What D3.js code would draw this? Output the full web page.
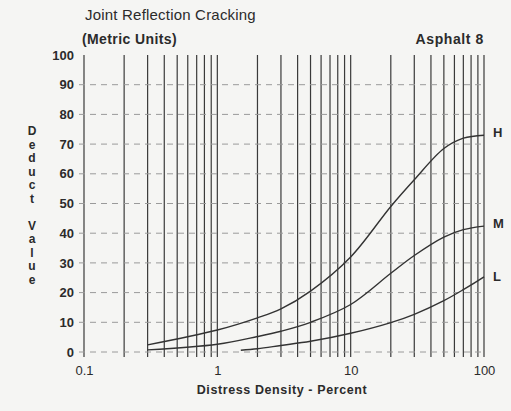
<!DOCTYPE html>
<html>
<head>
<meta charset="utf-8">
<script src="https://cdn.jsdelivr.net/npm/d3@7"></script>
<style>
  html, body { margin: 0; padding: 0; background: #f5f5f3; }
  svg { display: block; }
  text { font-family: "Liberation Sans", Arial, sans-serif; fill: #2b2b2b; }
</style>
</head>
<body>
<svg></svg>
<script>
// values
var densityH = [0.3, 1, 2, 3, 5, 10, 20, 30, 50, 70, 100];
var deductH  = [2.4, 7.4, 11.5, 14.5, 20.5, 32, 49, 58, 68.5, 72, 73];

var densityM = [0.3, 1, 2, 3, 5, 10, 20, 30, 50, 70, 100];
var deductM  = [0.7, 2.6, 5.2, 7, 10, 16, 26.5, 32.5, 38.7, 41.2, 42.4];

var densityL = [1.5, 2, 3, 5, 10, 20, 30, 50, 70, 100];
var deductL  = [0.6, 1.1, 2.2, 3.6, 6.3, 9.9, 12.7, 17.3, 21, 25.3];

var xTickLabels = [0.1, 1, 10, 100];
var yTicks = [0, 10, 20, 30, 40, 50, 60, 70, 80, 90, 100];
var curveNames = ["H", "M", "L"];

var width = 511, height = 411;
var margin = {top: 55, right: 27, bottom: 59, left: 84};

var svg = d3.select("svg")
    .attr("width", width)
    .attr("height", height);

var xScale = d3.scaleLog()
    .domain([0.1, 100])
    .range([margin.left, width - margin.right]);

var yScale = d3.scaleLinear()
    .domain([0, 100])
    .range([height - margin.bottom, margin.top]);

// vertical log grid lines (0.1..1, 1..10, 10..100)
var gridX = [];
[0.1, 1, 10].forEach(function(base) {
  for (var k = 1; k <= 9; k++) gridX.push(+(base * k).toFixed(2));
});
gridX.push(100);

svg.append("g").selectAll("line")
    .data(gridX)
  .enter().append("line")
    .attr("x1", function(d) { return xScale(d); })
    .attr("x2", function(d) { return xScale(d); })
    .attr("y1", yScale(100))
    .attr("y2", yScale(0) + 5)
    .style("stroke", "#3a3a3a")
    .style("stroke-width", 1.2);

// horizontal dashed grid lines
svg.append("g").selectAll("line")
    .data(yTicks.filter(function(d) { return d < 100; }))
  .enter().append("line")
    .attr("x1", xScale(0.1) - 5)
    .attr("x2", xScale(100))
    .attr("y1", function(d) { return yScale(d); })
    .attr("y2", function(d) { return yScale(d); })
    .style("stroke", "#9a9a9a")
    .style("stroke-width", 1)
    .style("stroke-dasharray", "6,5");

// y axis labels
var yAxis = svg.append("g")
    .attr("transform", "translate(" + (xScale(0.1) - 10) + ",0)")
    .call(d3.axisLeft(yScale).tickValues(yTicks).tickSize(0).tickPadding(0));
yAxis.select(".domain").remove();
yAxis.selectAll("text")
    .style("font-size", "13px")
    .style("font-weight", "bold")
    .style("fill", "#2b2b2b")
    .style("font-family", "'Liberation Sans', Arial, sans-serif");

// x axis labels
var xAxis = svg.append("g")
    .attr("transform", "translate(0," + (yScale(0) + 14) + ")")
    .call(d3.axisBottom(xScale).tickValues(xTickLabels)
      .tickFormat(function(d) { return String(d); }).tickSize(0).tickPadding(0));
xAxis.select(".domain").remove();
xAxis.selectAll("text")
    .style("font-size", "13px")
    .style("fill", "#2b2b2b")
    .style("font-family", "'Liberation Sans', Arial, sans-serif");

// curves
var line = d3.line()
    .x(function(d) { return xScale(d[0]); })
    .y(function(d) { return yScale(d[1]); })
    .curve(d3.curveCatmullRom.alpha(0.5));

var series = [
  d3.zip(densityH, deductH),
  d3.zip(densityM, deductM),
  d3.zip(densityL, deductL)
];

svg.append("g").selectAll("path")
    .data(series)
  .enter().append("path")
    .attr("d", line)
    .style("fill", "none")
    .style("stroke", "#333")
    .style("stroke-width", 1.4);

svg.append("g").selectAll("text")
    .data(series)
  .enter().append("text")
    .attr("x", function(d) { return xScale(d[d.length - 1][0]) + 9; })
    .attr("y", function(d, i) { return yScale(d[d.length - 1][1]) + (i == 2 ? 4 : 2); })
    .style("font-size", "13px")
    .style("font-weight", "bold")
    .text(function(d, i) { return curveNames[i]; });

// titles
svg.append("text")
    .attr("x", 85)
    .attr("y", 20)
    .style("font-size", "15px")
    .style("letter-spacing", "0.2px")
    .text("Joint Reflection Cracking");

svg.append("text")
    .attr("x", 82)
    .attr("y", 44)
    .style("font-size", "14px")
    .style("font-weight", "bold")
    .style("letter-spacing", "0.4px")
    .text("(Metric Units)");

svg.append("text")
    .attr("x", xScale(100))
    .attr("y", 44)
    .attr("text-anchor", "end")
    .style("font-size", "14px")
    .style("font-weight", "bold")
    .style("letter-spacing", "0.6px")
    .text("Asphalt 8");

svg.append("text")
    .attr("x", 282)
    .attr("y", 394)
    .attr("text-anchor", "middle")
    .style("font-size", "12.5px")
    .style("font-weight", "bold")
    .style("letter-spacing", "0.6px")
    .text("Distress Density - Percent");

// stacked y label
var yLabel = "Deduct Value".split("");
svg.append("g").selectAll("text")
    .data(yLabel)
  .enter().append("text")
    .attr("x", 32)
    .attr("y", function(d, i) { return 135 + i * 13.5; })
    .attr("text-anchor", "middle")
    .style("font-size", "12px")
    .style("font-weight", "bold")
    .text(function(d) { return d; });
</script>
</body>
</html>
